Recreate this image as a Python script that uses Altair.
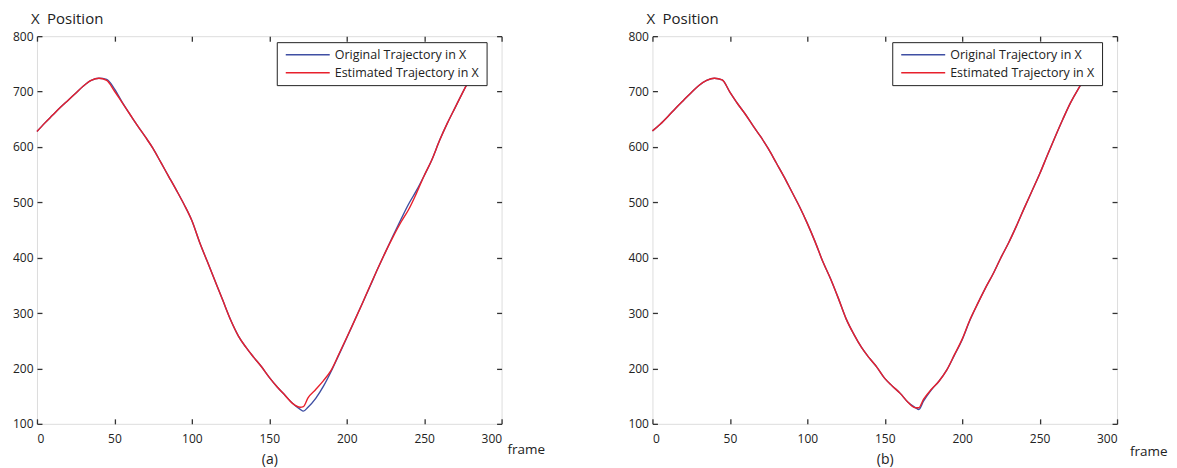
import altair as alt
import pandas as pd

# ---------------- data ----------------
frames = [0, 5, 10, 15, 20, 25, 30, 35, 40, 45, 50, 55, 60, 65, 70, 75, 80, 85, 90, 95,
          100, 105, 110, 115, 120, 125, 130, 135, 140, 145, 150, 155, 160, 165, 170, 172,
          175, 180, 185, 190, 195, 200, 205, 210, 215, 220, 225, 230, 235, 240, 245, 250,
          255, 260, 265, 270, 275, 280]

orig_a = [628, 643, 657, 671, 684, 697, 710, 720, 724, 722, 705, 681, 659, 638, 618, 597, 572, 547, 522, 496,
          467, 428, 393, 358, 323, 288, 259, 238, 220, 203, 184, 167, 152, 137, 126, 123,
          130, 146, 168, 195, 225, 255, 286, 317, 348, 380, 410, 440, 469, 497, 521, 548,
          577, 612, 643, 671, 699, 726]
est_a = [628, 643, 657, 671, 684, 697, 710, 720, 724, 720, 701, 680, 659, 638, 618, 597, 572, 547, 522, 496,
         467, 428, 393, 358, 323, 288, 259, 238, 220, 203, 184, 167, 152, 137, 130, 131,
         147, 162, 178, 197, 226, 256, 286, 317, 349, 380, 410, 438, 464, 487, 516, 548,
         577, 612, 643, 671, 699, 726]

orig_b = [629, 641, 655, 670, 684, 698, 711, 720, 724, 721, 699, 678, 659, 638, 618, 596, 571, 546, 519, 492,
          462, 429, 393, 362, 327, 290, 262, 238, 219, 202, 182, 168, 155, 139, 129, 126,
          141, 161, 177, 197, 224, 252, 287, 317, 345, 371, 400, 427, 457, 489, 520, 551,
          585, 618, 650, 680, 705, 727]
est_b = [629, 641, 655, 670, 684, 698, 711, 720, 724, 721, 699, 678, 659, 638, 618, 596, 571, 546, 519, 492,
         462, 429, 393, 362, 327, 290, 262, 238, 219, 202, 182, 168, 155, 139, 129, 129,
         144, 162, 177, 197, 225, 253, 288, 317, 345, 371, 400, 427, 457, 489, 520, 551,
         585, 618, 650, 680, 705, 727]

series_names = ["Original Trajectory in X", "Estimated Trajectory in X"]
series_colors = ["#3f4fa3", "#e8202c"]
x_ticks = [0, 50, 100, 150, 200, 250, 300]
y_ticks = [100, 200, 300, 400, 500, 600, 700, 800]
panel_tags = ["(a)", "(b)"]
y_title = "X\u2002Position"
x_name = ["frame"]

FONT = "Open Sans"
W, H = 465, 388


def panel(orig, est, tag, frame_dx, frame_dy):
    n = len(frames)
    df = pd.DataFrame({
        "frame": frames * 2,
        "value": orig + est,
        "series": [series_names[0]] * n + [series_names[1]] * n,
    })
    xs = alt.Scale(domain=[0, 300], nice=False, zero=False)
    ys = alt.Scale(domain=[100, 800], nice=False, zero=False)
    color = alt.Color(
        "series:N",
        scale=alt.Scale(domain=series_names, range=series_colors),
        legend=alt.Legend(
            title="\u2003", titleOrient="right", titleFontSize=7, titlePadding=2,
            orient="none", legendX=240, legendY=6,
            strokeColor="#222", fillColor="white", padding=6, cornerRadius=0,
            symbolType="stroke", symbolSize=1936, symbolStrokeWidth=1.5,
            symbolOffset=2, clipHeight=13, rowPadding=5, labelOffset=4,
            labelFont=FONT, labelFontSize=12.5, labelColor="#222", labelLimit=300,
        ),
    )
    x_main = alt.X("frame:Q", scale=xs, axis=alt.Axis(
        orient="bottom", values=x_ticks, offset=-5, tickSize=5, tickColor="#333",
        tickWidth=1.3, domain=False, grid=False, labelPadding=10,
        labelFont=FONT, labelFontSize=12, labelColor="#222",
        title=tag, titleFont=FONT, titleFontSize=14, titleFontWeight="normal",
        titleColor="#222", titlePadding=8))
    y_main = alt.Y("value:Q", scale=ys, axis=alt.Axis(
        orient="left", values=y_ticks, offset=-5, tickSize=5, tickColor="#333",
        tickWidth=1.3, domain=False, grid=False, labelPadding=4,
        labelFont=FONT, labelFontSize=12, labelColor="#222", title=None))
    x_none = alt.X("frame:Q", scale=xs, axis=None)
    y_none = alt.Y("value:Q", scale=ys, axis=None)
    x_top = alt.X("frame:Q", scale=xs, axis=alt.Axis(
        orient="top", values=x_ticks, offset=-5, tickSize=5, tickColor="#333",
        tickWidth=1.3, domain=False, grid=False, labels=False, title=None))
    y_right = alt.Y("value:Q", scale=ys, axis=alt.Axis(
        orient="right", values=y_ticks, offset=-5, tickSize=5, tickColor="#333",
        tickWidth=1.3, domain=False, grid=False, labels=False, title=None))

    base = alt.Chart(df)
    ghost = base.transform_filter(alt.datum.series == series_names[0]).mark_line(
        strokeOpacity=0).encode(x=x_top, y=y_right)
    blue = base.transform_filter(alt.datum.series == series_names[0]).mark_line(
        strokeWidth=1.4, interpolate="monotone").encode(x=x_main, y=y_main, color=color)
    red = base.transform_filter(alt.datum.series == series_names[1]).mark_line(
        strokeWidth=1.4, interpolate="monotone").encode(x=x_none, y=y_none, color=color)
    lab = alt.Chart(pd.DataFrame({"t": x_name})).mark_text(
        align="left", baseline="middle", font=FONT, fontSize=13.5, color="#222"
    ).encode(text="t:N", x=alt.value(W + frame_dx), y=alt.value(H + frame_dy))

    return alt.layer(ghost, blue, red, lab).resolve_axis(
        x="independent", y="independent").properties(
        width=W, height=H,
        title=alt.TitleParams(y_title, anchor="start", frame="group", dx=-6,
                              font=FONT, fontSize=15, fontWeight="normal",
                              color="#222", offset=3))


chart = alt.hconcat(
    panel(orig_a, est_a, panel_tags[0], 6, 26),
    panel(orig_b, est_b, panel_tags[1], 13, 28),
    spacing=151, bounds="flush",
).resolve_scale(color="independent").resolve_legend(color="independent").properties(
    padding={"left": 3, "top": 3, "right": 0, "bottom": 0}
).configure_view(stroke="#333", strokeWidth=1.5
).configure(background="white")

chart.save("out.html", embed_options={"renderer": "svg", "actions": False})
